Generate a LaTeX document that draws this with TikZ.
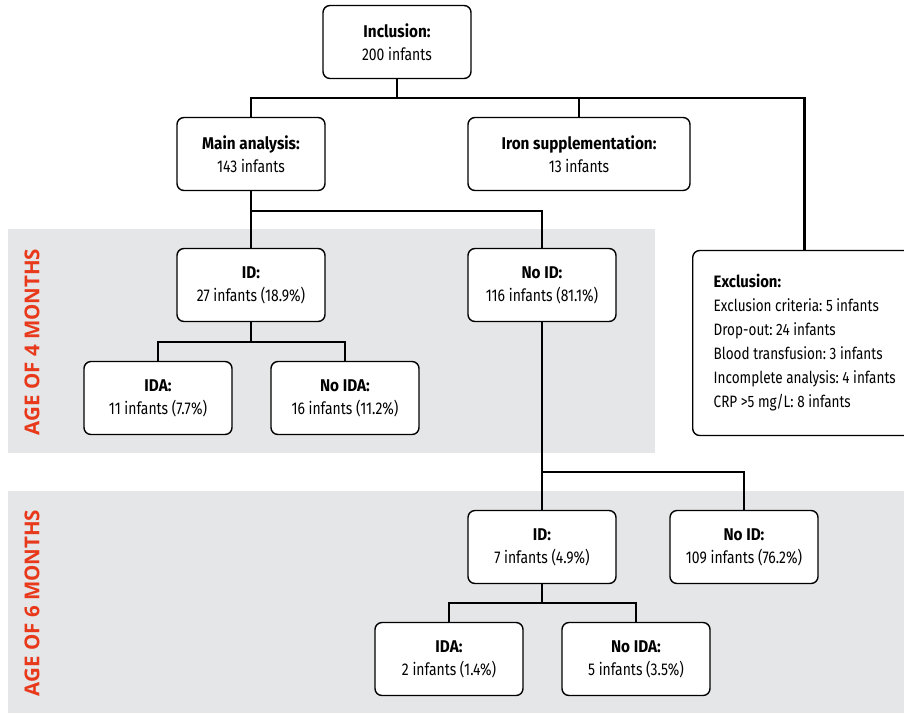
\documentclass[tikz,border=0pt]{standalone}
\usepackage{fontspec}
\setmainfont{Fira Sans}[FakeStretch=0.82,BoldFeatures={FakeStretch=0.9}]
\newfontfamily\agefont{Open Sans}
\definecolor{bandgrey}{HTML}{E5E6E8}
\definecolor{agered}{HTML}{E8391B}
\frenchspacing
\tikzset{
  box/.style={shape=rectangle,rounded corners=7pt,draw=black,line width=1.4pt,fill=white,
    minimum width=148pt,minimum height=73pt,align=center,font=\fontsize{17}{23}\selectfont},
  conn/.style={line width=2.8pt},
  agelabel/.style={rotate=90,text=agered,font=\agefont\bfseries\fontsize{20.5}{20.5}\selectfont}
}
\begin{document}
\begin{tikzpicture}[x=1pt,y=-1pt]
    \useasboundingbox (0,0) rectangle (904,713);
    \fill[bandgrey] (8,229) rectangle (655,453);
    \fill[bandgrey] (8,491) rectangle (904,713);
    \node[agelabel] (age4) at (32,342) {AGE OF 4 MONTHS};
    \node[agelabel] (age6) at (32,603) {AGE OF 6 MONTHS};

    \node[box] (incl) at (397,42) {\textbf{Inclusion:}\\200 infants};
    \node[box] (main) at (251,154) {\textbf{Main analysis:}\\143 infants};
    \node[box,minimum width=222pt] (iron) at (579,154) {\textbf{Iron supplementation:}\\13 infants};
    \node[box,anchor=west,minimum width=222pt,minimum height=185pt,inner xsep=21pt,align=left,
      font=\fontsize{16.5}{24}\selectfont] (excl) at (692,343)
      {\textbf{Exclusion:}\\Exclusion criteria: 5 infants\\Drop-out: 24 infants\\Blood transfusion: 3 infants\\Incomplete analysis: 4 infants\\CRP \textgreater5 mg/L: 8 infants};
    \node[box] (id4) at (251,285) {\textbf{ID:}\\27 infants (18.9\%)};
    \node[box] (noid4) at (542,285) {\textbf{No ID:}\\116 infants (81.1\%)};
    \node[box] (ida4) at (158,398) {\textbf{IDA:}\\11 infants (7.7\%)};
    \node[box] (noida4) at (345,398) {\textbf{No IDA:}\\16 infants (11.2\%)};
    \node[box] (id6) at (542,547) {\textbf{ID:}\\7 infants (4.9\%)};
    \node[box] (noid6) at (744,547) {\textbf{No ID:}\\109 infants (76.2\%)};
    \node[box] (ida6) at (449,659) {\textbf{IDA:}\\2 infants (1.4\%)};
    \node[box] (noida6) at (636,659) {\textbf{No IDA:}\\5 infants (3.5\%)};

    % junctions
    \coordinate (j1) at (397,98);
    \coordinate (j2) at (251,211);
    \coordinate (j3) at (251,342);
    \coordinate (j4) at (542,472);
    \coordinate (j5) at (542,603);

    \draw[conn] (incl.south) -- (j1);
    \draw[conn] (main.north) |- (j1) -| (excl.north);
    \draw[conn] (iron.north) -- (iron.north |- j1);
    \draw[conn] (main.south) -- (j2) -| (noid4.north);
    \draw[conn] (j2) -- (id4.north);
    \draw[conn] (id4.south) -- (j3);
    \draw[conn] (ida4.north) |- (j3) -| (noida4.north);
    \draw[conn] (noid4.south) -- (j4) -| (noid6.north);
    \draw[conn] (j4) -- (id6.north);
    \draw[conn] (id6.south) -- (j5);
    \draw[conn] (ida6.north) |- (j5) -| (noida6.north);
\end{tikzpicture}
\end{document}
